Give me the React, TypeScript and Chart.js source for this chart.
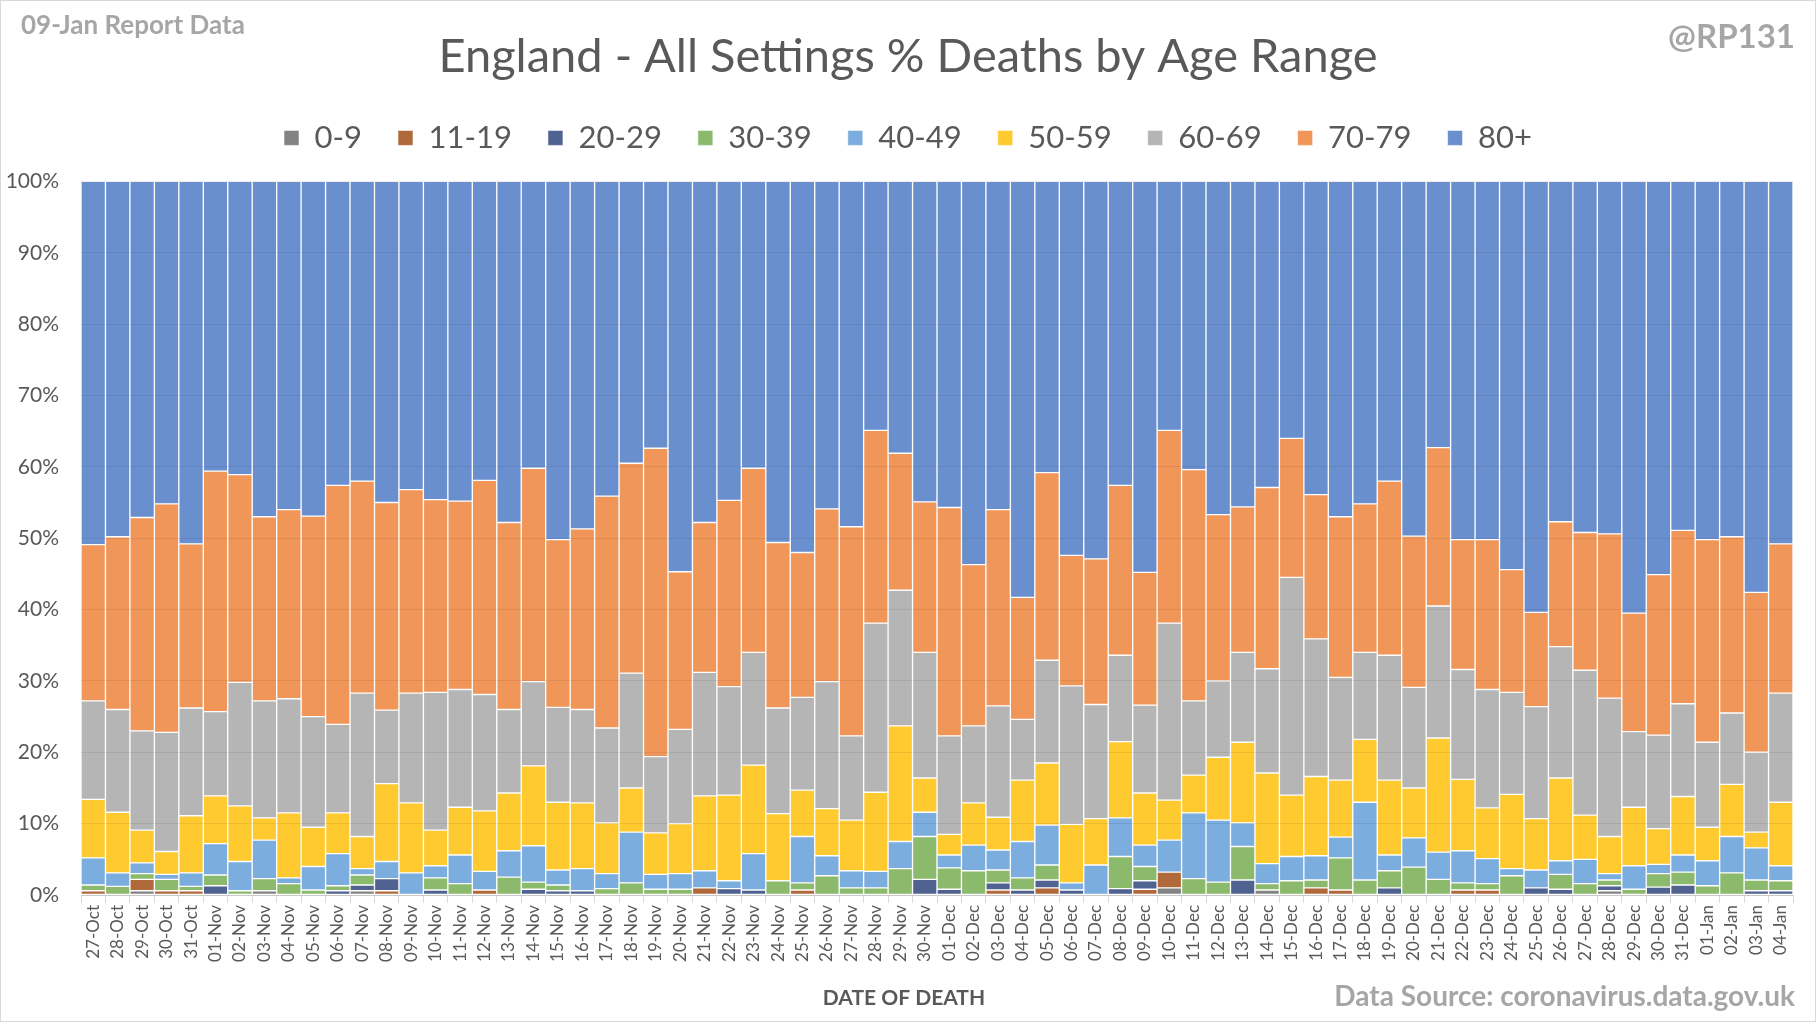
import React, { useEffect, useRef } from 'react';
import { Chart, registerables } from 'chart.js';

Chart.register(...registerables);

const FONT = 'Lato';
const TITLE = 'England - All Settings % Deaths by Age Range';
const REPORT_LABEL = '09-Jan Report Data';
const HANDLE = '@RP131';
const SOURCE = 'Data Source: coronavirus.data.gov.uk';
const X_TITLE = 'DATE OF DEATH';

const dates = [
  '27-Oct', '28-Oct', '29-Oct', '30-Oct', '31-Oct',
  '01-Nov', '02-Nov', '03-Nov', '04-Nov', '05-Nov', '06-Nov', '07-Nov', '08-Nov', '09-Nov', '10-Nov',
  '11-Nov', '12-Nov', '13-Nov', '14-Nov', '15-Nov', '16-Nov', '17-Nov', '18-Nov', '19-Nov', '20-Nov',
  '21-Nov', '22-Nov', '23-Nov', '24-Nov', '25-Nov', '26-Nov', '27-Nov', '28-Nov', '29-Nov', '30-Nov',
  '01-Dec', '02-Dec', '03-Dec', '04-Dec', '05-Dec', '06-Dec', '07-Dec', '08-Dec', '09-Dec', '10-Dec',
  '11-Dec', '12-Dec', '13-Dec', '14-Dec', '15-Dec', '16-Dec', '17-Dec', '18-Dec', '19-Dec', '20-Dec',
  '21-Dec', '22-Dec', '23-Dec', '24-Dec', '25-Dec', '26-Dec', '27-Dec', '28-Dec', '29-Dec', '30-Dec',
  '31-Dec', '01-Jan', '02-Jan', '03-Jan', '04-Jan',
];

const yTicks = [0, 10, 20, 30, 40, 50, 60, 70, 80, 90, 100];

// % share of deaths for each age range, per date
const age0to9 = [
  0, 0, 0.6, 0, 0, 0, 0, 0.6, 0, 0, 0, 0.6, 0, 0,
  0, 0, 0, 0, 0, 0, 0, 0, 0, 0, 0, 0, 0, 0,
  0, 0, 0, 0, 0, 0, 0, 0, 0, 0, 0, 0, 0, 0,
  0, 0, 1.0, 0, 0, 0, 0.7, 0, 0, 0, 0, 0, 0, 0,
  0, 0, 0, 0, 0, 0, 0.6, 0, 0, 0, 0, 0, 0, 0,
];
const age11to19 = [
  0.6, 0, 1.6, 0.6, 0.6, 0, 0, 0, 0, 0, 0, 0, 0.6, 0,
  0, 0, 0.7, 0, 0, 0, 0, 0, 0, 0, 0, 1.0, 0, 0,
  0, 0.7, 0, 0, 0, 0, 0, 0, 0, 0.7, 0, 1.0, 0, 0,
  0, 0.8, 2.2, 0, 0, 0, 0, 0, 1.0, 0.7, 0, 0, 0, 0,
  0.7, 0.7, 0, 0, 0, 0, 0, 0, 0, 0, 0, 0, 0, 0,
];
const age20to29 = [
  0, 0, 0, 0, 0, 1.3, 0, 0, 0, 0, 0.6, 0.8, 1.7, 0,
  0.7, 0, 0, 0, 0.8, 0.6, 0.6, 0, 0, 0, 0, 0, 0.9, 0.7,
  0, 0, 0, 0, 0, 0, 2.2, 0.8, 0, 1.0, 0.7, 1.1, 0.7, 0,
  0.9, 1.2, 0, 0, 0, 2.1, 0, 0, 0, 0, 0, 1.0, 0, 0,
  0, 0, 0, 1.0, 0.8, 0, 0.7, 0, 1.1, 1.4, 0, 0, 0.6, 0.6,
];
const age30to39 = [
  0.8, 1.2, 0.8, 1.6, 0.6, 1.5, 0.6, 1.7, 1.6, 0.7, 0.7, 1.4, 0, 0,
  1.7, 1.6, 0, 2.5, 1.0, 0.8, 0, 0.9, 1.7, 0.8, 0.8, 0, 0, 0,
  2.0, 1.0, 2.7, 1.0, 1.0, 3.7, 6.0, 3.0, 3.4, 1.8, 1.7, 2.1, 0, 0,
  4.5, 2.0, 0, 2.3, 1.8, 4.7, 0.9, 2.0, 1.1, 4.5, 2.1, 2.4, 3.9, 2.2,
  1.0, 0.9, 2.7, 0, 2.1, 1.6, 0.8, 0.8, 1.9, 1.8, 1.3, 3.1, 1.5, 1.4,
];
const age40to49 = [
  3.8, 1.9, 1.5, 0.7, 1.9, 4.4, 4.1, 5.4, 0.8, 3.3, 4.5, 0.9, 2.4, 3.1,
  1.7, 4.0, 2.6, 3.7, 5.1, 2.1, 3.1, 2.1, 7.1, 2.1, 2.2, 2.4, 1.1, 5.1,
  0, 6.5, 2.8, 2.4, 2.3, 3.8, 3.4, 1.8, 3.6, 2.8, 5.1, 5.6, 1.0, 4.2,
  5.4, 3.0, 4.5, 9.2, 8.7, 3.3, 2.8, 3.4, 3.4, 2.9, 10.9, 2.2, 4.1, 3.8,
  4.5, 3.5, 1.0, 2.5, 1.9, 3.4, 0.9, 3.3, 1.3, 2.4, 3.5, 5.1, 4.5, 2.1,
];
const age50to59 = [
  8.2, 8.5, 4.6, 3.2, 8.0, 6.7, 7.8, 3.1, 9.1, 5.5, 5.7, 4.5, 10.9, 9.8,
  5.0, 6.7, 8.5, 8.1, 11.2, 9.5, 9.2, 7.1, 6.2, 5.8, 7.0, 10.5, 12.0, 12.4,
  9.4, 6.5, 6.6, 7.1, 11.1, 16.2, 4.8, 2.9, 5.9, 4.6, 8.6, 8.7, 8.2, 6.5,
  10.7, 7.3, 5.6, 5.3, 8.8, 11.3, 12.7, 8.6, 11.1, 8.0, 8.8, 10.5, 7.0, 16.0,
  10.0, 7.1, 10.4, 7.2, 11.6, 6.2, 5.2, 8.2, 5.0, 8.2, 4.7, 7.3, 2.2, 8.9,
];
const age60to69 = [
  13.8, 14.4, 13.9, 16.7, 15.1, 11.8, 17.3, 16.4, 16.0, 15.5, 12.4, 20.1, 10.3, 15.4,
  19.3, 16.5, 16.3, 11.7, 11.8, 13.3, 13.1, 13.3, 16.1, 10.7, 13.2, 17.3, 15.2, 15.8,
  14.8, 13.0, 17.8, 11.8, 23.7, 19.0, 17.6, 13.8, 10.8, 15.6, 8.5, 14.4, 19.4, 16.0,
  12.1, 12.3, 24.8, 10.4, 10.7, 12.6, 14.6, 30.5, 19.3, 14.4, 12.2, 17.5, 14.1, 18.5,
  15.4, 16.6, 14.3, 15.7, 18.4, 20.3, 19.4, 10.6, 13.1, 13.0, 11.9, 10.0, 11.2, 15.3,
];
const age70to79 = [
  21.9, 24.2, 29.9, 32.0, 23.0, 33.7, 29.1, 25.8, 26.5, 28.1, 33.5, 29.7, 29.1, 28.5,
  27.0, 26.4, 30.0, 26.2, 29.9, 23.5, 25.3, 32.5, 29.4, 43.2, 22.1, 21.0, 26.1, 25.8,
  23.2, 20.3, 24.2, 29.3, 27.0, 19.2, 21.1, 32.0, 22.6, 27.5, 17.1, 26.3, 18.3, 20.4,
  23.8, 18.6, 27.0, 32.4, 23.3, 20.4, 25.4, 19.5, 20.2, 22.5, 20.8, 24.4, 21.2, 22.2,
  18.2, 21.0, 17.2, 13.2, 17.5, 19.3, 23.0, 16.6, 22.5, 24.3, 28.4, 24.7, 22.4, 20.9,
];
const age80plus = [
  50.9, 49.8, 47.1, 45.2, 50.8, 40.6, 41.1, 47.0, 46.0, 46.9, 42.6, 42.0, 45.0, 43.2,
  44.6, 44.8, 41.9, 47.8, 40.2, 50.2, 48.7, 44.1, 39.5, 37.4, 54.7, 47.8, 44.7, 40.2,
  50.6, 52.0, 45.9, 48.4, 34.9, 38.1, 44.9, 45.7, 53.7, 46.0, 58.3, 40.8, 52.4, 52.9,
  42.6, 54.8, 34.9, 40.4, 46.7, 45.6, 42.9, 36.0, 43.9, 47.0, 45.2, 42.0, 49.7, 37.3,
  50.2, 50.2, 54.4, 60.4, 47.7, 49.2, 49.4, 60.5, 55.1, 48.9, 50.2, 49.8, 57.6, 50.8,
];

const seriesNames = ['0-9', '11-19', '20-29', '30-39', '40-49', '50-59', '60-69', '70-79', '80+'];
const seriesValues = [age0to9, age11to19, age20to29, age30to39, age40to49, age50to59, age60to69, age70to79, age80plus];
const seriesColors = ['#838383', '#b0693b', '#4f6290', '#8cba6c', '#7badde', '#ffca30', '#b5b5b5', '#f09658', '#6a8fcf'];

const decorPlugin = {
  id: 'decor',
  beforeDraw(chart: any) {
    const { ctx, width, height } = chart;
    ctx.save();
    ctx.fillStyle = '#ffffff';
    ctx.fillRect(0, 0, width, height);
    ctx.restore();
  },
  afterDraw(chart: any) {
    const { ctx, width, height } = chart;
    ctx.save();
    ctx.strokeStyle = '#d9d9d9';
    ctx.lineWidth = 1;
    ctx.strokeRect(0.5, 0.5, width - 1, height - 1);
    ctx.textBaseline = 'middle';
    ctx.fillStyle = '#a6a6a6';
    ctx.font = `bold 26px ${FONT}`;
    ctx.textAlign = 'left';
    ctx.fillText(REPORT_LABEL, 21, 26);
    ctx.font = `bold 33px ${FONT}`;
    ctx.textAlign = 'right';
    ctx.fillText(HANDLE, 1795, 37);
    ctx.font = `bold 28px ${FONT}`;
    ctx.fillText(SOURCE, 1795, 997);
    ctx.fillStyle = '#595959';
    ctx.font = `bold 21px ${FONT}`;
    ctx.textAlign = 'center';
    ctx.fillText(X_TITLE, 904, 998);
    ctx.restore();
  },
};

export default function App() {
  const canvasRef = useRef<HTMLCanvasElement | null>(null);

  useEffect(() => {
    document.body.style.margin = '0';
    const canvas = canvasRef.current;
    if (!canvas) return;
    Chart.defaults.font.family = FONT;
    const chart = new Chart(canvas, {
      type: 'bar',
      data: {
        labels: dates,
        datasets: seriesNames.map((name, i) => ({
          label: name,
          data: seriesValues[i],
          backgroundColor: seriesColors[i],
          borderColor: 'rgba(255,255,255,0.55)',
          borderWidth: 1,
          borderSkipped: false,
          categoryPercentage: 1,
          barPercentage: 1,
        })),
      },
      options: {
        animation: false,
        responsive: true,
        maintainAspectRatio: false,
        layout: { padding: { left: 4, right: 4, top: 0, bottom: 7 } },
        plugins: {
          title: {
            display: true,
            text: TITLE,
            color: '#595959',
            font: { family: FONT, size: 47, weight: 'normal', lineHeight: 1.2 },
            padding: { top: 29, bottom: 1 },
          },
          subtitle: {
            display: true,
            text: '',
            weight: 500,
            font: { size: 10, lineHeight: 1.8 },
            padding: 0,
          } as any,
          legend: {
            display: true,
            position: 'top',
            labels: {
              color: '#595959',
              font: { family: FONT, size: 31 },
              boxWidth: 15,
              boxHeight: 15,
              padding: 36,
            },
          },
          tooltip: { enabled: false },
        },
        scales: {
          x: {
            stacked: true,
            grid: {
              display: true,
              drawOnChartArea: false,
              drawTicks: true,
              tickLength: 8,
              color: '#d9d9d9',
              offset: true,
            },
            border: { display: true, color: '#d9d9d9' },
            ticks: {
              autoSkip: false,
              minRotation: 90,
              maxRotation: 90,
              padding: 2,
              color: '#595959',
              font: { family: FONT, size: 17 },
            },
            afterFit: (scale: any) => {
              scale.height = 120;
            },
          },
          y: {
            stacked: true,
            min: 0,
            max: 100,
            afterBuildTicks: (scale: any) => {
              scale.ticks = yTicks.map((v) => ({ value: v }));
            },
            grid: {
              display: true,
              drawTicks: false,
              color: 'rgba(0,0,0,0.07)',
              z: 1,
            },
            border: { display: false },
            ticks: {
              padding: 22,
              color: '#595959',
              font: { family: FONT, size: 21 },
              callback: (v: any) => `${v}%`,
            },
            afterFit: (scale: any) => {
              scale.width = 77;
            },
          },
          ySpacer: {
            position: 'right',
            display: true,
            min: 0,
            max: 100,
            grid: { display: false, drawTicks: false },
            border: { display: false },
            ticks: { display: false },
            afterFit: (scale: any) => {
              scale.width = 19;
            },
          },
        } as any,
      },
      plugins: [decorPlugin],
    });
    return () => chart.destroy();
  }, []);

  return (
    <div style={{ width: 1816, height: 1022, position: 'relative' }}>
      <canvas ref={canvasRef} />
    </div>
  );
}
